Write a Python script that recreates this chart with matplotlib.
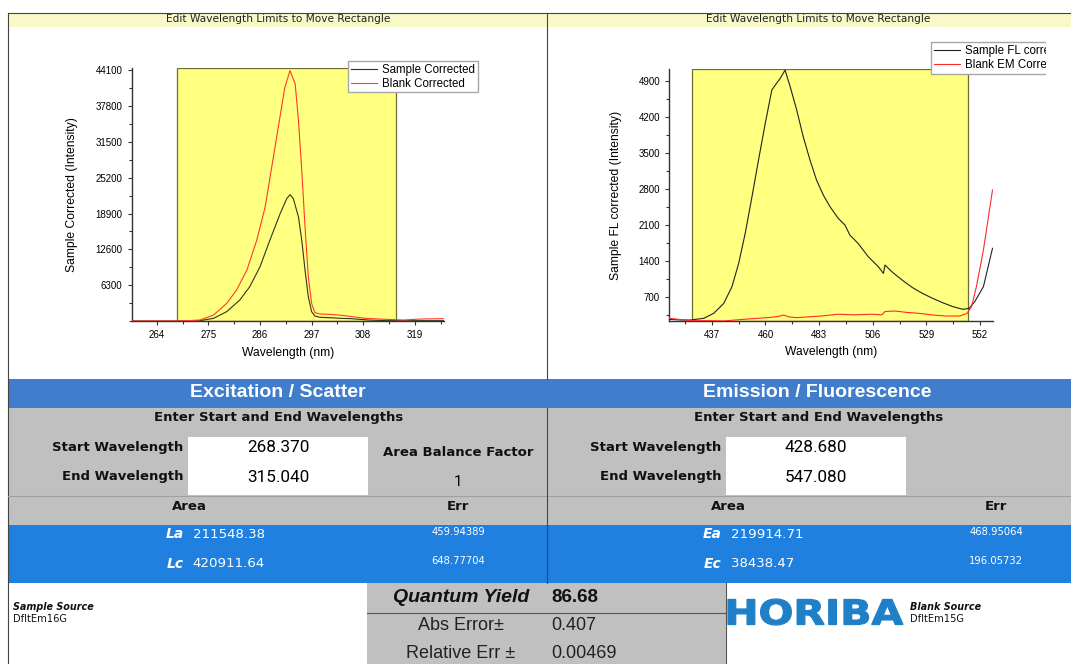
import matplotlib
matplotlib.use("Agg")
import matplotlib.pyplot as plt
from matplotlib.patches import Rectangle, PathPatch
from matplotlib.lines import Line2D
from matplotlib.textpath import TextPath
from matplotlib.font_manager import FontProperties
from matplotlib.transforms import Affine2D
from matplotlib.ticker import AutoMinorLocator, FixedLocator

W, H = 1071, 664

# Excitation / scatter spectra (wavelength nm, intensity)
ex_sample_wl = [258.6, 270.5, 273.2, 276.1, 278.9, 281.7, 283.8, 286.0, 288.1, 290.3,
                291.7, 292.4, 293.1, 294.2, 294.9, 295.6, 296.3, 297.0, 297.7, 298.8,
                300.9, 303.0, 305.4, 309.1, 312.9, 325.2]
ex_sample = [0, 0, 60, 470, 1640, 3690, 6020, 9530, 14200, 18900,
             21530, 22230, 21530, 18300, 14200, 8950, 4260, 1640, 880, 650,
             580, 480, 410, 175, 60, 60]
ex_blank_wl = [258.6, 268.4, 270.8, 273.2, 276.1, 278.9, 281.0, 283.2, 285.3, 287.1,
               288.5, 289.9, 291.3, 292.4, 293.5, 294.2, 294.9, 295.6, 296.3, 297.0,
               297.7, 298.8, 300.9, 302.8, 304.6, 308.4, 312.9, 316.6, 320.3, 325.2]
ex_blank = [0, 0, 60, 175, 1050, 3100, 5440, 8950, 14200, 20060,
            27080, 34100, 41120, 44050, 41700, 35270, 26500, 16550, 7770, 3100,
            1460, 1230, 1170, 1050, 880, 470, 290, 175, 350, 410]

# Emission / fluorescence spectra
em_sample_wl = [418.6, 424.2, 427.8, 433.5, 437.8, 442.1, 445.6, 448.5, 451.3, 454.2,
                457.0, 459.9, 462.7, 464.9, 466.3, 468.4, 470.6, 473.4, 476.2, 479.1,
                481.9, 484.8, 487.7, 491.2, 494.1, 496.2, 499.7, 504.1, 508.4, 510.6,
                511.3, 514.2, 518.6, 522.9, 527.3, 531.7, 536.0, 540.4, 544.7, 547.4,
                549.8, 553.5, 557.4]
em_sample = [272, 259, 259, 292, 389, 583, 906, 1361, 1944, 2656,
             3369, 4083, 4730, 4872, 4957, 5119, 4794, 4341, 3822, 3369,
             2980, 2689, 2461, 2236, 2105, 1911, 1750, 1491, 1296, 1166,
             1329, 1199, 1037, 894, 778, 681, 596, 519, 467, 486,
             616, 907, 1653]
em_blank_wl = [418.6, 428.6, 437.0, 442.0, 450.4, 456.0, 462.0, 465.5, 467.8, 470.0,
               473.4, 479.4, 484.8, 491.0, 498.3, 505.5, 509.9, 511.3, 515.7, 520.0,
               525.9, 531.7, 537.5, 543.3, 546.5, 548.4, 550.5, 553.5, 557.4]
em_blank = [292, 246, 246, 240, 272, 290, 310, 330, 357, 320,
            305, 324, 340, 372, 360, 372, 360, 425, 434, 410,
            389, 357, 337, 337, 389, 519, 907, 1620, 2787]

ex_start, ex_end = 268.370, 315.040
em_start, em_end = 428.680, 547.080
area_balance = 1
la, la_err = 211548.38, 459.94389
lc, lc_err = 420911.64, 648.77704
ea, ea_err = 219914.71, 468.95064
ec, ec_err = 38438.47, 196.05732
quantum_yield, abs_err, rel_err = 86.68, 0.407, 0.00469

ex_xticks = [264, 275, 286, 297, 308, 319]
ex_yticks = [6300, 12600, 18900, 25200, 31500, 37800, 44100]
em_xticks = [437, 460, 483, 506, 529, 552]
em_yticks = [700, 1400, 2100, 2800, 3500, 4200, 4900]

HEADER_BLUE = '#417dcd'
ROW_BLUE = '#2080e0'
GRAY = '#c0c0c0'
PLOT_FONT = 'Liberation Sans'
UI_FONT = 'DejaVu Sans'

fig = plt.figure(figsize=(W / 100, H / 100), dpi=100)
fig.patch.set_facecolor('white')


def fx(x):
    return x / W


def fy(y):
    return 1 - y / H


def box(x0, y0, x1, y1, color, zorder=0.5):
    fig.add_artist(Rectangle((fx(x0), fy(y1)), (x1 - x0) / W, (y1 - y0) / H,
                             transform=fig.transFigure, facecolor=color,
                             edgecolor='none', zorder=zorder))


def line(x0, y0, x1, y1, color='#555555', lw=0.8):
    fig.add_artist(Line2D([fx(x0), fx(x1)], [fy(y0), fy(y1)],
                          transform=fig.transFigure, color=color, lw=lw, zorder=2))


def label(x, y, s, **kw):
    kw.setdefault('va', 'center')
    fig.text(fx(x), fy(y), s, **kw)


def spectrum_axes(px, xlim, ylim, xticks, yticks, ylabel, ylabel_x):
    x0, y0, x1, y1 = px
    ax = fig.add_axes([fx(x0), fy(y1), (x1 - x0) / W, (y1 - y0) / H])
    ax.set_xlim(*xlim)
    ax.set_ylim(*ylim)
    for side in ('top', 'right'):
        ax.spines[side].set_visible(False)
    for side in ('left', 'bottom'):
        ax.spines[side].set_color('#333333')
        ax.spines[side].set_linewidth(1.0)
    ax.xaxis.set_major_locator(FixedLocator(xticks))
    ax.yaxis.set_major_locator(FixedLocator(yticks))
    ax.xaxis.set_minor_locator(AutoMinorLocator(2))
    ax.yaxis.set_minor_locator(AutoMinorLocator(2))
    ax.tick_params(which='major', direction='out', length=3, width=0.8,
                   color='#333333', labelsize=7, pad=3.5)
    ax.tick_params(which='minor', direction='out', length=2, width=0.8, color='#333333')
    for t in ax.get_xticklabels() + ax.get_yticklabels():
        t.set_fontfamily(PLOT_FONT)
    ax.set_xlabel('Wavelength (nm)', fontsize=8.7, family=PLOT_FONT, va='center')
    ax.set_ylabel(ylabel, fontsize=8.7, family=PLOT_FONT, va='center')
    ax.xaxis.set_label_coords(0.5, -0.125)
    ax.yaxis.set_label_coords(ylabel_x, 0.5)
    return ax


# --- outer frame and title strips ---
box(8, 13, W, 27, '#f8f8c8')
line(8, 13, W, 13, '#444444')
line(8, 13, 8, H, '#444444')
line(547, 13, 547, 379, '#444444')
label(278, 19.5, 'Edit Wavelength Limits to Move Rectangle', ha='center',
      fontsize=7.6, family=UI_FONT, color='#222222')
label(818, 19.5, 'Edit Wavelength Limits to Move Rectangle', ha='center',
      fontsize=7.6, family=UI_FONT, color='#222222')

# --- excitation plot ---
ax1 = spectrum_axes((131.6, 68.3, 443.9, 321), (258.63, 325.2), (0, 44450),
                    ex_xticks, ex_yticks, 'Sample Corrected (Intensity)', -0.19)
ax1.add_patch(Rectangle((ex_start, 0), ex_end - ex_start, 44450,
                        facecolor='#ffff80', edgecolor='#6e6e30', lw=0.9, zorder=1))
ax1.plot(ex_sample_wl, ex_sample, color='#333322', lw=0.8, label='Sample Corrected', zorder=3)
ax1.plot(ex_blank_wl, ex_blank, color='#ff3a2a', lw=0.8, label='Blank Corrected', zorder=3)
leg1 = ax1.legend(loc='upper left', bbox_to_anchor=(0.693, 1.029), fancybox=False,
                  edgecolor='#a8a8a8', framealpha=1, handlelength=2.3, handletextpad=0.4,
                  borderpad=0.25, labelspacing=0.15, borderaxespad=0,
                  prop=FontProperties(family=PLOT_FONT, size=8.3))
leg1.get_frame().set_linewidth(1.0)

# --- emission plot ---
ax2 = spectrum_axes((669, 69, 992.5, 321), (418.6, 557.4), (240, 5140),
                    em_xticks, em_yticks, 'Sample FL corrected (Intensity)', -0.164)
ax2.add_patch(Rectangle((em_start, 240), em_end - em_start, 4900,
                        facecolor='#ffff80', edgecolor='#6e6e30', lw=0.9, zorder=1))
ax2.plot(em_sample_wl, em_sample, color='#222222', lw=0.8, label='Sample FL corrected', zorder=3)
ax2.plot(em_blank_wl, em_blank, color='#ff2a2a', lw=0.8, label='Blank EM Corrected', zorder=3)
leg2 = ax2.legend(loc='upper left', bbox_to_anchor=(0.81, 1.107), fancybox=False,
                  edgecolor='#a8a8a8', framealpha=1, handlelength=2.3, handletextpad=0.4,
                  borderpad=0.25, labelspacing=0.15, borderaxespad=0,
                  prop=FontProperties(family=PLOT_FONT, size=8.3))
leg2.get_frame().set_linewidth(1.0)
# the graph widget ends before the page edge
box(1046, 28, W, 378, 'white', zorder=5)

# --- results table ---
box(8, 379, W, 408, HEADER_BLUE)
box(8, 408, W, 525, GRAY)
box(8, 525, W, 583, ROW_BLUE)
line(8, 495.5, W, 495.5, '#a0a0a0')
line(547, 408, 547, 583, '#444444')
box(188, 437, 368, 495, 'white', zorder=0.6)
box(726, 437, 905.5, 495, 'white', zorder=0.6)

bold_ui = dict(family=UI_FONT, weight='bold', fontsize=9.5, color='#111111')
for cx, title in ((278, 'Excitation / Scatter'), (817.5, 'Emission / Fluorescence')):
    label(cx, 392.5, title, ha='center', family=PLOT_FONT, weight='bold',
          fontsize=14, color='white')
    label(cx + 1, 417.5, 'Enter Start and End Wavelengths', ha='center', **bold_ui)

for rx, bx, start, end in ((183, 278, ex_start, ex_end), (721.5, 816, em_start, em_end)):
    label(rx, 447, 'Start Wavelength', ha='right', **bold_ui)
    label(rx, 476.5, 'End Wavelength', ha='right', **bold_ui)
    label(bx, 447.5, f'{start:.3f}', ha='center', family='Roboto', fontsize=12.3)
    label(bx, 477, f'{end:.3f}', ha='center', family='Roboto', fontsize=12.3)

label(458, 453, 'Area Balance Factor', ha='center', **bold_ui)
label(458, 481.5, f'{area_balance}', ha='center', family='Roboto', fontsize=11)

for ax_x, err_x in ((189, 458), (728, 996)):
    label(ax_x, 506, 'Area', ha='center', **bold_ui)
    label(err_x, 506, 'Err', ha='center', **bold_ui)

rows = [((183.5, 192.5, 458), 534.5, 'La', la, la_err),
        ((183.5, 192.5, 458), 563.5, 'Lc', lc, lc_err),
        ((721.5, 730.5, 996), 534.5, 'Ea', ea, ea_err),
        ((721.5, 730.5, 996), 563.5, 'Ec', ec, ec_err)]
for (nx, vx, ex), y, name, val, err in rows:
    label(nx, y, name, ha='right', family=UI_FONT, weight='bold', style='italic',
          fontsize=10, color='white')
    label(vx, y, f'{val:.2f}', ha='left', family=UI_FONT, fontsize=9.6, color='white')
    label(ex, y - 2.5, f'{err:.5f}', ha='center', family=UI_FONT, fontsize=7.2, color='white')

# --- quantum yield block ---
box(367, 583, 726, H, GRAY)
line(367, 613, 726, 613, '#555555')
line(726, 583, 726, H, '#555555')
label(461, 597, 'Quantum Yield', ha='center', family=PLOT_FONT, weight='bold',
      style='italic', fontsize=14, color='#111111')
label(551, 597, f'{quantum_yield:.2f}', ha='left', family=PLOT_FONT, weight='bold',
      fontsize=13.5, color='#111111')
label(461, 626, 'Abs Error±', ha='center', family=PLOT_FONT, fontsize=13, color='#222222')
label(551, 626, f'{abs_err:.3f}', ha='left', family=PLOT_FONT, fontsize=13, color='#222222')
label(461, 654, 'Relative Err ±', ha='center', family=PLOT_FONT, fontsize=13, color='#222222')
label(551, 654, f'{rel_err:.5f}', ha='left', family=PLOT_FONT, fontsize=13, color='#222222')

# sources
for x, title, name in ((13, 'Sample Source', 'DfltEm16G'), (910, 'Blank Source', 'DfltEm15G')):
    label(x, 607, title, ha='left', family=UI_FONT, weight='bold', style='italic',
          fontsize=6.9, color='#111111')
    label(x, 619, name, ha='left', family=UI_FONT, fontsize=7.1, color='#111111')

# logo, stretched to its box
logo = TextPath((0, 0), 'HORIBA', size=1, prop=FontProperties(family=UI_FONT, weight='bold'))
ext = logo.get_extents()
lx0, ly0, lx1, ly1 = 728, 599, 903, 625
tr = (Affine2D().translate(-ext.x0, -ext.y0)
      .scale((lx1 - lx0) / W / ext.width, (ly1 - ly0) / H / ext.height)
      .translate(fx(lx0), fy(ly1)) + fig.transFigure)
fig.add_artist(PathPatch(logo, transform=tr, facecolor='#1f80c8', edgecolor='#1f80c8',
                         lw=0.9, zorder=2))

fig.savefig('out.png', dpi=100)
